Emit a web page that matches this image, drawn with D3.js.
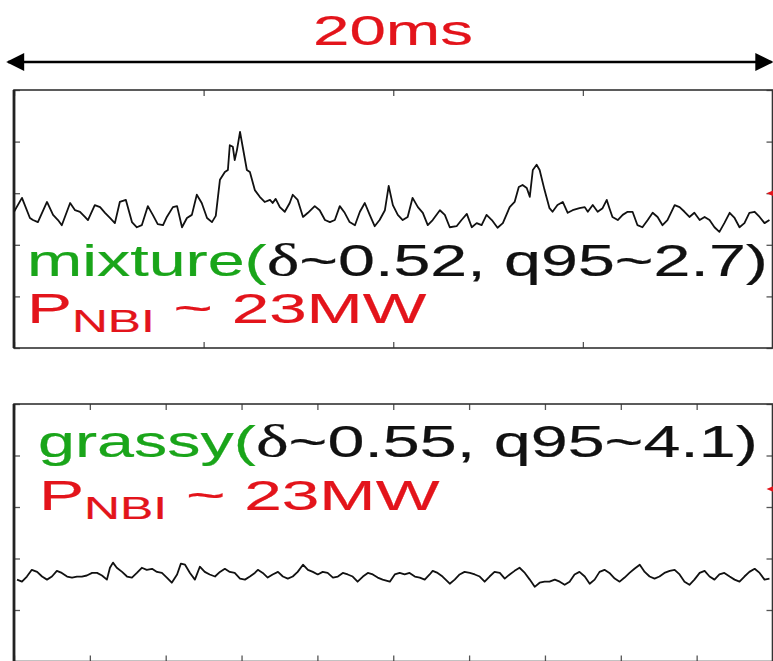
<!DOCTYPE html>
<html>
<head>
<meta charset="utf-8">
<script src="https://cdn.jsdelivr.net/npm/d3@7"></script>
<style>
  html, body { margin: 0; padding: 0; background: #fff; }
  svg { display: block; }
</style>
</head>
<body>
<svg id="chart" width="773" height="661"></svg>
<script>
// ---- data -------------------------------------------------------------
const spanLabel = "20ms";
const timeTicksCoarse = [0, 5, 10, 15, 20];
const timeTicksFine = [0, 2, 4, 6, 8, 10, 12, 14, 16, 18, 20];
const levelTicks = [0, 1, 2, 3, 4, 5];

// mixture ELM regime (upper panel): time in ms, signal in a.u.
const mixtureTime = [0.00,0.21,0.42,0.50,0.63,0.87,1.03,1.16,1.26,1.48,1.61,1.74,1.87,1.95,2.13,2.27,2.40,2.53,2.66,2.79,
  2.95,3.11,3.24,3.37,3.53,3.66,3.79,3.93,4.03,4.19,4.30,4.43,4.56,4.69,4.82,4.95,5.09,5.22,5.32,5.43,
  5.56,5.64,5.69,5.77,5.82,5.88,5.96,6.03,6.14,6.22,6.35,6.48,6.61,6.75,6.82,6.90,7.01,7.14,7.27,7.35,
  7.48,7.62,7.75,7.93,8.06,8.20,8.33,8.46,8.59,8.72,8.85,8.99,9.12,9.25,9.38,9.51,9.64,9.78,9.88,9.99,
  10.12,10.25,10.38,10.51,10.65,10.78,10.91,11.04,11.23,11.36,11.49,11.67,11.80,11.94,12.07,12.20,12.33,12.46,12.60,12.75,
  12.89,13.07,13.20,13.31,13.41,13.52,13.60,13.68,13.78,13.86,13.99,14.12,14.20,14.33,14.47,14.60,14.73,14.91,15.05,15.13,
  15.26,15.39,15.52,15.63,15.70,15.78,15.92,16.05,16.18,16.31,16.44,16.57,16.71,16.84,16.97,17.10,17.23,17.42,17.55,17.68,
  17.81,17.94,18.08,18.21,18.34,18.47,18.60,18.73,18.87,19.00,19.13,19.26,19.39,19.53,19.66,19.79,19.92];
const mixtureSignal = [2.64,2.91,2.52,2.48,2.44,2.83,2.58,2.48,2.38,2.81,2.67,2.64,2.54,2.48,2.77,2.73,2.62,2.52,2.42,2.83,
  2.87,2.44,2.34,2.38,2.75,2.58,2.40,2.38,2.54,2.73,2.75,2.34,2.52,2.58,2.97,2.81,2.52,2.44,2.56,3.26,
  3.41,3.45,3.93,3.90,3.64,3.84,4.19,3.90,3.45,3.41,3.06,2.93,2.83,2.87,2.81,2.89,2.73,2.64,2.81,2.97,
  2.87,2.54,2.62,2.75,2.67,2.48,2.44,2.48,2.75,2.62,2.44,2.38,2.64,2.81,2.58,2.36,2.48,2.67,3.14,2.77,
  2.58,2.48,2.54,2.91,2.73,2.62,2.38,2.48,2.67,2.58,2.34,2.36,2.48,2.60,2.34,2.42,2.38,2.58,2.48,2.33,
  2.42,2.73,2.83,3.12,3.16,3.10,2.93,3.45,3.55,3.45,3.06,2.71,2.64,2.77,2.83,2.62,2.67,2.71,2.73,2.64,
  2.77,2.64,2.71,2.87,2.71,2.54,2.48,2.58,2.64,2.64,2.38,2.34,2.48,2.62,2.54,2.38,2.48,2.77,2.73,2.64,
  2.54,2.62,2.48,2.54,2.48,2.34,2.25,2.42,2.62,2.52,2.34,2.42,2.62,2.64,2.54,2.42,2.48];

// grassy ELM regime (lower panel)
const grassyTime = [0.08,0.21,0.34,0.47,0.61,0.74,0.87,1.00,1.13,1.26,1.40,1.53,1.66,1.79,1.92,2.06,2.19,2.32,2.45,2.53,
  2.61,2.71,2.85,2.98,3.11,3.24,3.37,3.50,3.64,3.77,3.90,4.03,4.16,4.30,4.40,4.51,4.64,4.77,4.90,5.03,
  5.16,5.30,5.43,5.56,5.69,5.82,5.96,6.09,6.22,6.35,6.43,6.56,6.69,6.82,6.96,7.09,7.22,7.35,7.48,7.62,
  7.75,7.88,8.01,8.14,8.27,8.41,8.54,8.67,8.80,8.93,9.06,9.20,9.33,9.46,9.59,9.72,9.91,10.04,10.17,10.30,
  10.43,10.57,10.70,10.83,10.96,11.04,11.17,11.30,11.49,11.62,11.75,11.88,12.02,12.15,12.28,12.41,12.54,12.67,12.81,12.94,
  13.07,13.20,13.33,13.47,13.60,13.73,13.86,13.99,14.12,14.26,14.39,14.52,14.65,14.78,14.91,15.05,15.18,15.31,15.44,15.57,
  15.70,15.84,15.97,16.10,16.23,16.36,16.50,16.63,16.76,16.89,17.02,17.15,17.29,17.42,17.55,17.68,17.81,17.94,18.08,18.21,
  18.34,18.47,18.60,18.73,18.87,19.00,19.13,19.26,19.39,19.53,19.66,19.79,19.92];
const grassySignal = [1.59,1.55,1.65,1.78,1.74,1.65,1.59,1.65,1.76,1.72,1.65,1.63,1.65,1.65,1.67,1.72,1.72,1.67,1.59,1.82,
  1.92,1.82,1.74,1.65,1.63,1.72,1.82,1.78,1.80,1.74,1.72,1.63,1.53,1.69,1.90,1.88,1.72,1.59,1.84,1.74,
  1.69,1.65,1.74,1.80,1.74,1.72,1.61,1.59,1.65,1.72,1.78,1.72,1.63,1.69,1.74,1.65,1.61,1.65,1.74,1.88,
  1.78,1.74,1.69,1.74,1.72,1.63,1.65,1.72,1.69,1.65,1.55,1.65,1.72,1.69,1.63,1.59,1.55,1.69,1.72,1.69,
  1.72,1.65,1.63,1.59,1.69,1.76,1.72,1.65,1.51,1.59,1.69,1.74,1.72,1.69,1.65,1.55,1.65,1.74,1.72,1.61,
  1.69,1.76,1.82,1.72,1.59,1.45,1.53,1.55,1.55,1.59,1.55,1.49,1.55,1.69,1.74,1.65,1.51,1.59,1.74,1.78,
  1.72,1.61,1.55,1.63,1.72,1.80,1.88,1.74,1.65,1.61,1.65,1.72,1.76,1.78,1.69,1.55,1.49,1.59,1.72,1.76,
  1.65,1.59,1.69,1.72,1.65,1.59,1.55,1.65,1.74,1.80,1.72,1.59,1.61];

// event markers on the right edge (signal level)
const markerLevels = [3.00, 3.35];

const panels = [
  { top: 90,  bottom: 348,   time: mixtureTime, signal: mixtureSignal, ticks: timeTicksCoarse,
    regime: "mixture(", delta: "δ", params: "~0.52, q95~2.7)", power: ["P", "NBI", " ~ 23MW"],
    line1: { x0: 27, x1: 768, y: 276 }, line2: { x0: 27, x1: 427, y: 323 } },
  { top: 404, bottom: 661.5, time: grassyTime, signal: grassySignal, ticks: timeTicksFine,
    regime: "grassy(", delta: "δ", params: "~0.55, q95~4.1)", power: ["P", "NBI", " ~ 23MW"],
    line1: { x0: 38, x1: 758, y: 457 }, line2: { x0: 39, x1: 440, y: 510 } }
];

// ---- drawing ----------------------------------------------------------
const W = 773, H = 661;
const left = 14, right = 772.5;
const green = "#1aa51a", red = "#e3141b";
const sans = "Liberation Sans, Arial, sans-serif";
const serif = "Liberation Serif, Times New Roman, serif";
const svg = d3.select("#chart");

const x = d3.scaleLinear().domain([0, 20]).range([left, right]);

// stretch a text element horizontally so it spans [x0, x1]
function fitText(t, x0, x1, y) {
  const box = t.node().getBBox();
  const s = (x1 - x0) / box.width;
  t.attr("transform", `translate(${x0 - box.x * s},${y}) scale(${s},1)`);
}

// span indicator above the panels
const arrowY = 62;
const defs = svg.append("defs");
defs.append("marker").attr("id", "head").attr("viewBox", "0 0 10 10")
  .attr("refX", 9).attr("refY", 5).attr("markerWidth", 28).attr("markerHeight", 18)
  .attr("markerUnits", "userSpaceOnUse").attr("orient", "auto-start-reverse")
  .append("path").attr("d", "M0,0 L10,5 L0,10 Z").attr("fill", "#000");

svg.append("line")
  .attr("x1", x(0) - 6).attr("x2", x(20) - 1)
  .attr("y1", arrowY).attr("y2", arrowY)
  .attr("stroke", "#000").attr("stroke-width", 2.4)
  .attr("marker-start", "url(#head)").attr("marker-end", "url(#head)");

const spanText = svg.append("text").text(spanLabel)
  .attr("font-family", sans).attr("font-size", 43).attr("fill", red)
  .attr("stroke", red).attr("stroke-width", 0.2);
fitText(spanText, 313, 473, 45);

panels.forEach((p, i) => {
  const y = d3.scaleLinear().domain([0, 5]).range([p.bottom, p.top]);
  const g = svg.append("g");

  const clipId = "clip" + i;
  defs.append("clipPath").attr("id", clipId).append("rect")
    .attr("x", left).attr("y", p.top).attr("width", right - left).attr("height", p.bottom - p.top);

  // inward ticks on all four sides
  const tickStyle = sel => {
    sel.select(".domain").remove();
    sel.selectAll(".tick line").attr("stroke", "#555").attr("stroke-width", 1.3);
  };
  g.append("g").attr("transform", `translate(0,${p.top})`)
    .call(d3.axisTop(x).tickValues(p.ticks).tickSize(-6).tickFormat("")).call(tickStyle);
  g.append("g").attr("transform", `translate(0,${p.bottom})`)
    .call(d3.axisBottom(x).tickValues(p.ticks).tickSize(-6).tickFormat("")).call(tickStyle);
  g.append("g").attr("transform", `translate(${left},0)`)
    .call(d3.axisLeft(y).tickValues(levelTicks).tickSize(-6).tickFormat("")).call(tickStyle);
  g.append("g").attr("transform", `translate(${right},0)`)
    .call(d3.axisRight(y).tickValues(levelTicks).tickSize(-6).tickFormat("")).call(tickStyle);

  // frame
  g.append("rect").attr("x", left).attr("y", p.top)
    .attr("width", right - left).attr("height", p.bottom - p.top)
    .attr("fill", "none").attr("stroke", "#333").attr("stroke-width", 1.6);
  g.append("line").attr("x1", left).attr("x2", left).attr("y1", p.top).attr("y2", p.bottom)
    .attr("stroke", "#222").attr("stroke-width", 2.8);

  // signal trace
  const pts = p.time.map((t, k) => [t, p.signal[k]]);
  g.append("path").datum(pts)
    .attr("clip-path", `url(#${clipId})`)
    .attr("d", d3.line().x(d => x(d[0])).y(d => y(d[1])))
    .attr("fill", "none").attr("stroke", "#111").attr("stroke-width", 1.8)
    .attr("stroke-linejoin", "round");

  // marker on right edge
  const my = y(markerLevels[i]);
  g.append("path")
    .attr("d", d3.line()([[right - 6, my], [right + 6, my - 5], [right + 6, my + 5]]) + "Z")
    .attr("fill", red);

  // regime label
  const t1 = g.append("text")
    .attr("font-family", sans).attr("font-size", 44)
    .attr("stroke-width", 0.2);
  t1.append("tspan").attr("fill", green).attr("stroke", green).text(p.regime);
  t1.append("tspan").attr("fill", "#111").attr("stroke", "#111")
    .attr("font-family", serif).attr("font-size", 46).text(p.delta);
  t1.append("tspan").attr("fill", "#111").attr("stroke", "#111").text(p.params);
  fitText(t1, p.line1.x0, p.line1.x1, p.line1.y);

  // beam power label
  const t2 = g.append("text")
    .attr("font-family", sans).attr("font-size", 42).attr("fill", red)
    .attr("stroke", red).attr("stroke-width", 0.2);
  t2.append("tspan").text(p.power[0]);
  t2.append("tspan").attr("font-size", 31).attr("dy", 9).text(p.power[1]);
  t2.append("tspan").attr("dy", -9).text(p.power[2]);
  fitText(t2, p.line2.x0, p.line2.x1, p.line2.y);
});
</script>
</body>
</html>
